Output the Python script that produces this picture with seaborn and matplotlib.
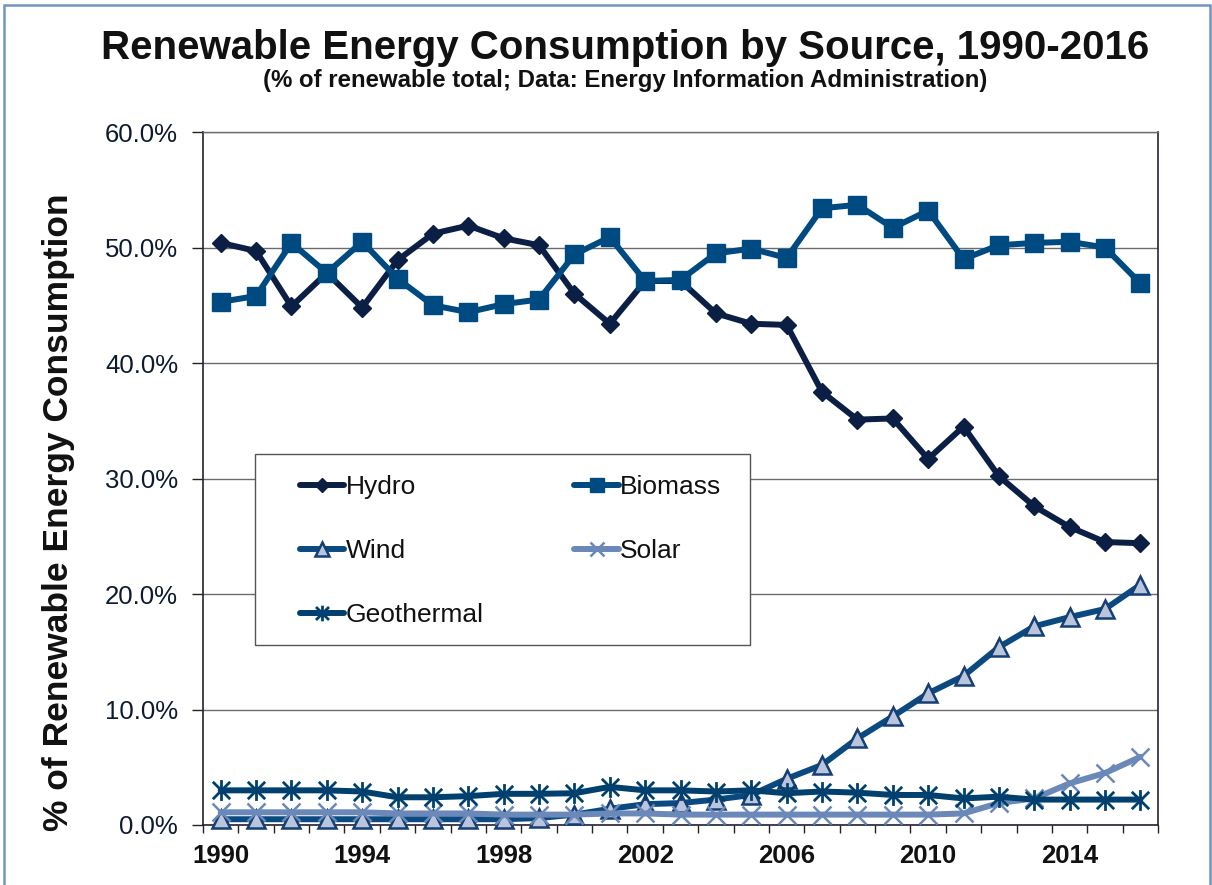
import numpy as np
import pandas as pd
import seaborn as sns
import matplotlib.pyplot as plt
from matplotlib.patches import Rectangle
from matplotlib.path import Path

# --- data (% of renewable total) ---
years = list(range(1990, 2017))

hydro = [50.4, 49.7, 44.9, 47.8, 44.8, 48.9, 51.2, 51.9, 50.8, 50.2,
         46.0, 43.4, 47.1, 47.1, 44.3, 43.4, 43.3, 37.5, 35.1, 35.2,
         31.7, 34.5, 30.2, 27.6, 25.8, 24.5, 24.4]
biomass = [45.3, 45.8, 50.4, 47.8, 50.5, 47.3, 45.0, 44.4, 45.1, 45.5,
           49.4, 50.9, 47.1, 47.2, 49.5, 49.9, 49.1, 53.4, 53.7, 51.7,
           53.2, 49.0, 50.2, 50.4, 50.5, 50.0, 46.9]
wind = [0.5, 0.5, 0.5, 0.5, 0.5, 0.5, 0.5, 0.5, 0.5, 0.6,
        0.9, 1.4, 1.8, 1.9, 2.2, 2.6, 4.0, 5.2, 7.5, 9.4,
        11.4, 12.9, 15.4, 17.2, 18.0, 18.7, 20.8]
solar = [1.1, 1.1, 1.1, 1.1, 1.1, 1.0, 1.0, 1.0, 0.9, 0.9,
         0.9, 1.0, 1.0, 0.9, 0.9, 0.9, 0.9, 0.9, 0.9, 0.9,
         0.9, 1.0, 1.9, 2.3, 3.6, 4.5, 5.9]
geothermal = [3.0, 3.0, 3.0, 3.0, 2.9, 2.4, 2.4, 2.5, 2.7, 2.7,
              2.75, 3.3, 3.0, 3.0, 2.9, 3.0, 2.75, 2.9, 2.8, 2.6,
              2.6, 2.3, 2.45, 2.2, 2.2, 2.2, 2.2]

sources = ["Hydro", "Biomass", "Wind", "Solar", "Geothermal"]
values = [hydro, biomass, wind, solar, geothermal]

df = pd.DataFrame({
    "year": np.tile(years, len(sources)),
    "source": np.repeat(sources, len(years)),
    "pct": np.concatenate(values),
})

# Excel "star" marker: an X with a vertical bar through it
star = Path([(-0.5, -0.5), (0.5, 0.5), (-0.5, 0.5), (0.5, -0.5), (0, -0.6), (0, 0.6)],
            [Path.MOVETO, Path.LINETO, Path.MOVETO, Path.LINETO, Path.MOVETO, Path.LINETO])

# per-series style (Excel-like)
styles = {
    "Hydro":      dict(color="#0b1f45", marker="D", ms=9.5, mfc="#0b1f45", mec="#0b1f45", mew=1),
    "Biomass":    dict(color="#004a82", marker="s", ms=13,  mfc="#004a82", mec="#004a82", mew=1),
    "Wind":       dict(color="#0b4a80", marker="^", ms=13,  mfc="#b9c5dc", mec="#153f74", mew=1.8),
    "Solar":      dict(color="#6a88b8", marker="x", ms=13,  mfc="#6a88b8", mec="#6a88b8", mew=1.8),
    "Geothermal": dict(color="#00406f", marker=star, ms=15, mfc="#00406f", mec="#00406f", mew=2),
}

sns.set_theme(style="white")
plt.rcParams["font.family"] = ["Liberation Sans", "DejaVu Sans"]

fig = plt.figure(figsize=(12.12, 8.85), dpi=100)
ax = fig.add_axes([0.1675, 0.0678, 0.788, 0.783])

for z, src in enumerate(sources):
    st = styles[src]
    sns.lineplot(data=df[df["source"] == src], x="year", y="pct", ax=ax,
                 color=st["color"], linewidth=4.3, marker=st["marker"],
                 markersize=st["ms"], markerfacecolor=st["mfc"],
                 markeredgecolor=st["mec"], markeredgewidth=st["mew"],
                 label=src, zorder=3 + z, clip_on=False)

# axes / ticks
ax.set_xlim(1989.5, 2016.5)
ax.set_ylim(0, 60)
ax.set_yticks(np.arange(0, 61, 10))
ax.set_yticklabels([f"{v:.1f}%" for v in np.arange(0, 61, 10)], fontsize=18.5, color="#0d1a30")
ax.yaxis.grid(True, color="#6b6b6b", linewidth=1.0)
ax.set_axisbelow(True)

ax.set_xticks(np.arange(1990, 2017, 4))
ax.set_xticklabels([str(y) for y in range(1990, 2017, 4)], fontsize=18.5, fontweight="bold", color="#111111")
ax.set_xticks(np.arange(1989.5, 2017, 1), minor=True)
ax.tick_params(axis="x", which="major", length=0, pad=14)
ax.tick_params(axis="x", which="minor", length=6, width=1, color="#222222", direction="out", bottom=True)
ax.tick_params(axis="y", which="major", length=8, width=1, color="#222222", direction="out", left=True, pad=10)

for side in ["left", "bottom", "right"]:
    ax.spines[side].set_color("#222233")
    ax.spines[side].set_linewidth(1.2)
ax.spines["top"].set_color("#6b6b6b")
ax.spines["top"].set_linewidth(1.0)

ax.set_xlabel("")
ax.set_ylabel("% of Renewable Energy Consumption", fontsize=25.5, fontweight="bold", color="#111111")
ax.yaxis.set_label_coords(-0.134, 0.452)

# legend: two columns, filled column-wise; frame drawn as a separate box
handles, labels = ax.get_legend_handles_labels()
hmap = dict(zip(labels, handles))
order = ["Hydro", "Wind", "Geothermal", "Biomass", "Solar"]
leg = ax.legend([hmap[k] for k in order], order, ncol=2, loc="upper left",
                bbox_to_anchor=(0.1016, 0.505), fontsize=19, frameon=False,
                handlelength=1.67, handletextpad=0.05, columnspacing=3.45,
                labelspacing=1.52, borderpad=0, borderaxespad=0, markerscale=0.75)
leg.set_zorder(20)
for t in leg.get_texts():
    t.set_color("#111111")
ax.add_patch(Rectangle((0.0545, 0.26), 0.5185, 0.275, transform=ax.transAxes,
                       facecolor="white", edgecolor="#555555", linewidth=1.0, zorder=15))

# titles
fig.text(0.516, 0.946, "Renewable Energy Consumption by Source, 1990-2016",
         ha="center", va="center", fontsize=29, fontweight="bold", color="#111111")
fig.text(0.516, 0.9085, "(% of renewable total; Data: Energy Information Administration)",
         ha="center", va="center", fontsize=17.3, fontweight="bold", color="#111111")

# thin slide border
fig.patches.append(Rectangle((0.003, -0.01), 0.995, 1.004, transform=fig.transFigure,
                             fill=False, edgecolor="#7094c0", linewidth=1.8))

fig.savefig("out.png", dpi=100)
